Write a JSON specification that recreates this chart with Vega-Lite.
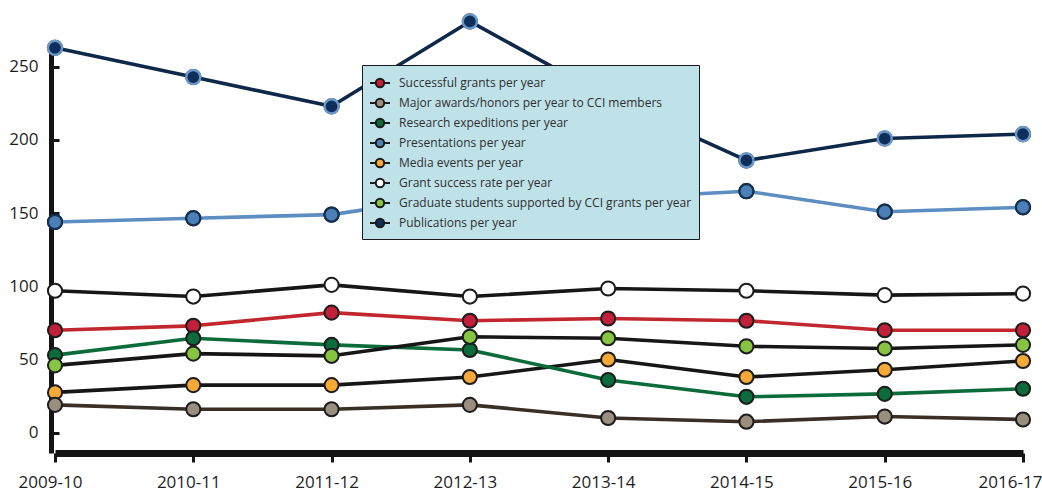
{
  "$schema": "https://vega.github.io/schema/vega-lite/v6.json",
  "width": 979,
  "height": 408,
  "autosize": {"type": "none"},
  "padding": {"left": 51, "top": 45, "right": 12, "bottom": 40},
  "background": "#ffffff",
  "config": {
    "view": {"stroke": null},
    "font": "Open Sans"
  },
  "data": {
    "values": [
      {"year": "2009-10", "series": "Successful grants per year", "value": 70},
      {"year": "2010-11", "series": "Successful grants per year", "value": 73},
      {"year": "2011-12", "series": "Successful grants per year", "value": 82},
      {"year": "2012-13", "series": "Successful grants per year", "value": 76.5},
      {"year": "2013-14", "series": "Successful grants per year", "value": 78},
      {"year": "2014-15", "series": "Successful grants per year", "value": 76.5},
      {"year": "2015-16", "series": "Successful grants per year", "value": 70},
      {"year": "2016-17", "series": "Successful grants per year", "value": 70},
      {"year": "2009-10", "series": "Media events per year", "value": 27.5},
      {"year": "2010-11", "series": "Media events per year", "value": 32.5},
      {"year": "2011-12", "series": "Media events per year", "value": 32.5},
      {"year": "2012-13", "series": "Media events per year", "value": 38},
      {"year": "2013-14", "series": "Media events per year", "value": 50},
      {"year": "2014-15", "series": "Media events per year", "value": 38},
      {"year": "2015-16", "series": "Media events per year", "value": 43},
      {"year": "2016-17", "series": "Media events per year", "value": 49},
      {"year": "2009-10", "series": "Major awards/honors per year to CCI members", "value": 19},
      {"year": "2010-11", "series": "Major awards/honors per year to CCI members", "value": 16},
      {"year": "2011-12", "series": "Major awards/honors per year to CCI members", "value": 16},
      {"year": "2012-13", "series": "Major awards/honors per year to CCI members", "value": 19},
      {"year": "2013-14", "series": "Major awards/honors per year to CCI members", "value": 10},
      {"year": "2014-15", "series": "Major awards/honors per year to CCI members", "value": 7.5},
      {"year": "2015-16", "series": "Major awards/honors per year to CCI members", "value": 11},
      {"year": "2016-17", "series": "Major awards/honors per year to CCI members", "value": 9},
      {"year": "2009-10", "series": "Research expeditions per year", "value": 53},
      {"year": "2010-11", "series": "Research expeditions per year", "value": 64.5},
      {"year": "2011-12", "series": "Research expeditions per year", "value": 60},
      {"year": "2012-13", "series": "Research expeditions per year", "value": 56.5},
      {"year": "2013-14", "series": "Research expeditions per year", "value": 36},
      {"year": "2014-15", "series": "Research expeditions per year", "value": 24.5},
      {"year": "2015-16", "series": "Research expeditions per year", "value": 26.5},
      {"year": "2016-17", "series": "Research expeditions per year", "value": 30},
      {"year": "2009-10", "series": "Presentations per year", "value": 144},
      {"year": "2010-11", "series": "Presentations per year", "value": 146.5},
      {"year": "2011-12", "series": "Presentations per year", "value": 149},
      {"year": "2012-13", "series": "Presentations per year", "value": 163},
      {"year": "2013-14", "series": "Presentations per year", "value": 160},
      {"year": "2014-15", "series": "Presentations per year", "value": 165},
      {"year": "2015-16", "series": "Presentations per year", "value": 151},
      {"year": "2016-17", "series": "Presentations per year", "value": 154},
      {"year": "2009-10", "series": "Grant success rate per year", "value": 97},
      {"year": "2010-11", "series": "Grant success rate per year", "value": 93},
      {"year": "2011-12", "series": "Grant success rate per year", "value": 101},
      {"year": "2012-13", "series": "Grant success rate per year", "value": 93},
      {"year": "2013-14", "series": "Grant success rate per year", "value": 98.5},
      {"year": "2014-15", "series": "Grant success rate per year", "value": 97},
      {"year": "2015-16", "series": "Grant success rate per year", "value": 94},
      {"year": "2016-17", "series": "Grant success rate per year", "value": 95},
      {"year": "2009-10", "series": "Graduate students supported by CCI grants per year", "value": 46},
      {"year": "2010-11", "series": "Graduate students supported by CCI grants per year", "value": 54},
      {"year": "2011-12", "series": "Graduate students supported by CCI grants per year", "value": 52.5},
      {"year": "2012-13", "series": "Graduate students supported by CCI grants per year", "value": 65.5},
      {"year": "2013-14", "series": "Graduate students supported by CCI grants per year", "value": 64.5},
      {"year": "2014-15", "series": "Graduate students supported by CCI grants per year", "value": 59},
      {"year": "2015-16", "series": "Graduate students supported by CCI grants per year", "value": 57.5},
      {"year": "2016-17", "series": "Graduate students supported by CCI grants per year", "value": 60},
      {"year": "2009-10", "series": "Publications per year", "value": 263},
      {"year": "2010-11", "series": "Publications per year", "value": 243},
      {"year": "2011-12", "series": "Publications per year", "value": 223},
      {"year": "2012-13", "series": "Publications per year", "value": 281},
      {"year": "2013-14", "series": "Publications per year", "value": 229},
      {"year": "2014-15", "series": "Publications per year", "value": 186},
      {"year": "2015-16", "series": "Publications per year", "value": 201},
      {"year": "2016-17", "series": "Publications per year", "value": 204}
    ]
  },
  "encoding": {
    "x": {
      "field": "year",
      "type": "ordinal",
      "scale": {"type": "point", "range": [4, 972], "padding": 0},
      "axis": {
        "title": null,
        "labelAngle": 0,
        "labelFont": "Open Sans",
        "labelFontSize": 17,
        "labelColor": "#1e1e1e",
        "labelPadding": 12,
        "labelOffset": {"condition": {"test": "datum.label === '2016-17'", "value": -13}, "value": -5},
        "domainWidth": 7,
        "domainColor": "#141414",
        "domainCap": "butt",
        "tickSize": 9,
        "tickWidth": 3,
        "tickColor": "#141414"
      }
    },
    "y": {
      "field": "value",
      "type": "quantitative",
      "scale": {"domain": [-13.9, 264.9], "nice": false, "zero": false},
      "axis": {
        "title": null,
        "values": [0, 50, 100, 150, 200, 250],
        "grid": false,
        "labelFont": "Open Sans",
        "labelFontSize": 17,
        "labelColor": "#1e1e1e",
        "labelPadding": 21,
        "domainWidth": 5,
        "domainColor": "#141414",
        "tickSize": -8,
        "tickWidth": 3,
        "tickColor": "#141414"
      }
    }
  },
  "layer": [
    {
      "mark": {"type": "line", "strokeWidth": 3.6, "strokeJoin": "round"},
      "encoding": {
        "detail": {"field": "series", "type": "nominal"},
        "stroke": {
          "condition": [
            {"test": "datum.series === 'Successful grants per year'", "value": "#c1272d"},
            {"test": "datum.series === 'Major awards/honors per year to CCI members'", "value": "#3a2f26"},
            {"test": "datum.series === 'Research expeditions per year'", "value": "#0c6b3a"},
            {"test": "datum.series === 'Presentations per year'", "value": "#5c8ec2"},
            {"test": "datum.series === 'Publications per year'", "value": "#0d2848"}
          ],
          "value": "#161616"
        }
      }
    },
    {
      "mark": {"type": "circle", "size": 200, "strokeWidth": 2, "opacity": 1, "stroke": "#1c1c1c"},
      "encoding": {
        "fill": {
          "field": "series",
          "type": "nominal",
          "scale": {
            "domain": [
              "Successful grants per year",
              "Major awards/honors per year to CCI members",
              "Research expeditions per year",
              "Presentations per year",
              "Media events per year",
              "Grant success rate per year",
              "Graduate students supported by CCI grants per year",
              "Publications per year"
            ],
            "range": ["#c21f38", "#9a8e7f", "#0c6b3a", "#4c7fb6", "#f7a937", "#ffffff", "#86c441", "#0e2f5c"]
          },
          "legend": {
            "title": null,
            "orient": "none",
            "legendX": 311,
            "legendY": 20,
            "fillColor": "#bfe2e9",
            "strokeColor": "#1a1a1a",
            "padding": 7,
            "labelFont": "Open Sans",
            "labelFontSize": 12,
            "labelColor": "#2e2e2e",
            "labelOffset": 8,
            "labelLimit": 400,
            "rowPadding": 0,
            "symbolType": "M-1,0H-0.42M0.42,0H1M-0.42,0A0.42,0.42 0 1,0 0.42,0A0.42,0.42 0 1,0 -0.42,0Z",
            "symbolSize": 400,
            "symbolStrokeWidth": 2,
            "symbolStrokeColor": "#1a1a1a"
          }
        }
      }
    },
    {
      "transform": [{"filter": "datum.series === 'Publications per year'"}],
      "mark": {"type": "circle", "size": 200, "strokeWidth": 2.4, "opacity": 1, "fill": "#0e2f5c", "stroke": "#6a98c8"},
      "encoding": {}
    },
    {
      "transform": [{"filter": "datum.series === 'Presentations per year'"}],
      "mark": {"type": "circle", "size": 200, "strokeWidth": 2.2, "opacity": 1, "fill": "#4c7fb6", "stroke": "#12304f"},
      "encoding": {}
    }
  ]
}
